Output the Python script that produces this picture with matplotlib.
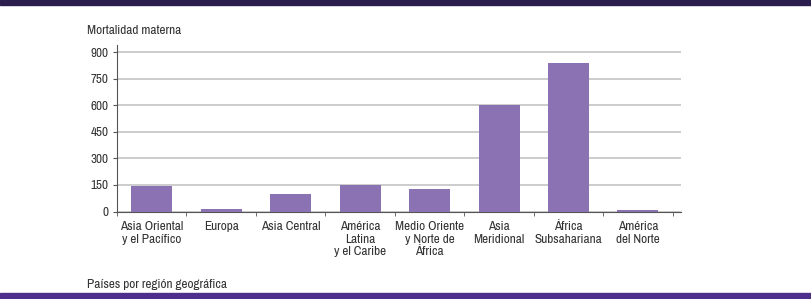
import matplotlib
matplotlib.use("Agg")
import matplotlib.pyplot as plt

regiones = ["Asia Oriental\ny el Pacífico", "Europa", "Asia Central", "América\nLatina\ny el Caribe",
            "Medio Oriente\ny Norte de\nÁfrica", "Asia\nMeridional", "África\nSubsahariana", "América\ndel Norte"]
mortalidad = [145, 15, 100, 150, 130, 600, 840, 10]
yticks = [0, 150, 300, 450, 600, 750, 900]

plt.rcParams["font.family"] = ["Archivo Narrow", "Roboto Condensed", "DejaVu Sans"]

texto = "#333333"
fig = plt.figure(figsize=(8.12, 2.99), dpi=100)
ax = fig.add_axes([0.1441, 0.2926, 0.6946, 0.5569])

x = range(len(regiones))
ax.bar(x, mortalidad, width=0.59, color="#8a72b3", zorder=3)
ax.set_xlim(-0.5, 7.62)
ax.set_ylim(0, 942)
ax.set_yticks(yticks)
ax.yaxis.grid(True, color="#cccccc", linewidth=1.4, zorder=0)
ax.set_xticks(list(x))
ax.set_xticklabels(regiones, fontsize=9.5, color=texto, linespacing=1.15)
ax.set_xticks([i - 0.5 for i in range(len(regiones) + 1)], minor=True)
ax.tick_params(axis="x", which="major", length=0, pad=7)
ax.tick_params(axis="x", which="minor", length=3, color="#555555")
ax.tick_params(axis="y", length=3, color="#555555", labelsize=9.5, labelcolor=texto, pad=3)
for s in ["top", "right"]:
    ax.spines[s].set_visible(False)
ax.spines["left"].set_color("#555555")
ax.spines["bottom"].set_color("#555555")

fig.text(87 / 812, 1 - 30 / 299, "Mortalidad materna", fontsize=9.5, color=texto, va="center")
fig.text(87 / 812, 1 - 284 / 299, "Países por región geográfica", fontsize=9.5, color=texto, va="center")

# bandas moradas arriba y abajo
fig.patches.append(plt.Rectangle((0, 1 - 5 / 299), 1, 5 / 299, transform=fig.transFigure,
                                 color="#2b1d4d", zorder=0))
fig.patches.append(plt.Rectangle((0, 0), 1, 6 / 299, transform=fig.transFigure,
                                 color="#4e2f8c", zorder=0))

fig.savefig("out.png", dpi=100)
